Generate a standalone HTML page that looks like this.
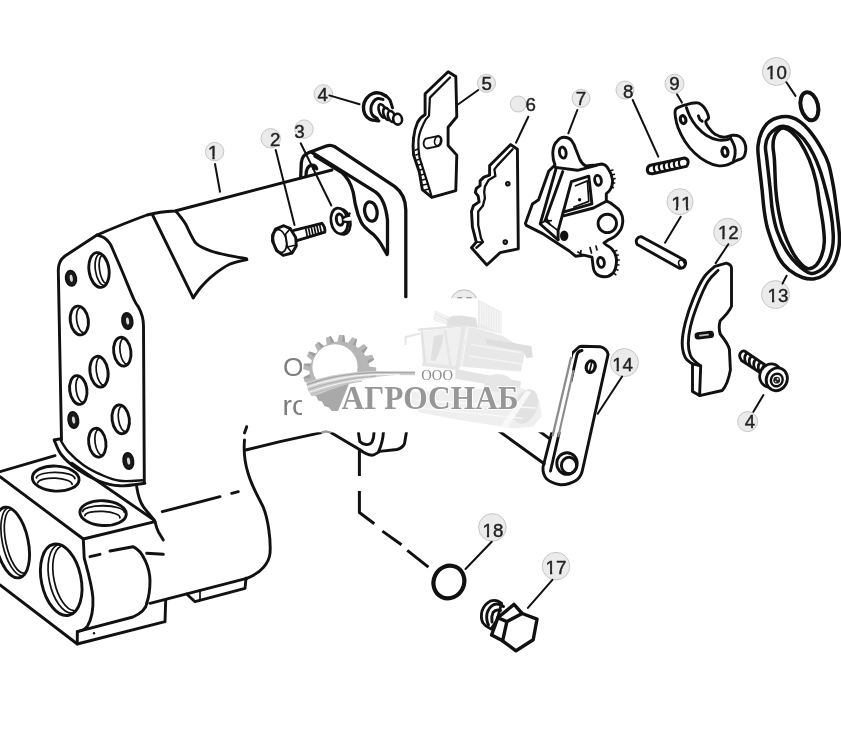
<!DOCTYPE html>
<html><head><meta charset="utf-8">
<style>
html,body{margin:0;padding:0;background:#fff;}
body{width:841px;height:731px;overflow:hidden;font-family:"Liberation Sans",sans-serif;}
svg{display:block;will-change:transform;}
.k{fill:none;stroke:#111;stroke-width:2.9;stroke-linecap:round;stroke-linejoin:round;}
.t{fill:none;stroke:#111;stroke-width:1.7;stroke-linecap:round;stroke-linejoin:round;}
.h{fill:none;stroke:#111;stroke-width:2.6;stroke-linecap:round;stroke-linejoin:round;}
.w{fill:#fff;stroke:#111;stroke-width:2.9;stroke-linecap:round;stroke-linejoin:round;}
#flange .k{stroke-width:3.3;}
.lc{fill:#ebebeb;stroke:#c6c6c6;stroke-width:1;}
.lt{font-family:"Liberation Sans",sans-serif;font-size:17.5px;fill:#222;stroke:#222;stroke-width:0.4;text-anchor:middle;}
.ld{fill:none;stroke:#111;stroke-width:2;stroke-linecap:round;}
</style></head><body>
<svg width="841" height="731" viewBox="0 0 841 731">
<rect width="841" height="731" fill="#fff"/>
<!--BODY-->
<g id="body">
<!-- face plate -->
<path class="k" d="M61.5,440 L58.3,270 Q58.3,261 65,256 L97,235 Q125,223 147,215 Q160,211.5 175,211 L332,170"/>
<path class="k" d="M97.1,235.0 C98.3,235.5 102.1,236.4 104.2,237.8 C106.3,239.2 108.2,241.0 109.9,243.5 C111.6,246.0 112.1,247.9 114.2,252.8 C116.3,257.7 119.5,264.9 122.8,272.8 C126.1,280.7 131.6,294.4 134.2,300.0 C136.8,305.6 137.6,305.6 138.3,306.7 Q143.5,316 143.5,326 L144.3,481.7"/>
<path class="k" d="M152.6,215 L193.2,297.8"/>
<path class="k" d="M176.0,211.3 C176.8,212.3 179.4,215.4 181.0,217.5 C182.6,219.6 183.9,221.0 185.6,224.0 C187.3,227.0 189.4,232.2 191.3,235.6 C193.2,239.0 193.8,241.6 197.0,244.2 C200.2,246.8 205.1,249.0 210.5,250.9 C215.9,252.8 223.6,254.4 229.6,255.7 C235.6,257.0 243.7,258.1 246.5,258.6"/>
<path class="k" d="M246.9,259.6 C244.0,260.4 235.3,261.6 229.6,264.3 C223.8,267.0 217.2,272.0 212.4,275.8 C207.6,279.6 204.1,283.6 200.9,287.3 C197.7,291.0 194.5,296.1 193.2,297.8"/>
<!-- plate bottom -->
<path class="k" d="M54.2,440.0 C55.4,442.5 57.6,450.0 61.6,455.0 C65.6,460.0 72.2,465.6 78.3,469.9 C84.4,474.2 91.4,478.1 98.3,480.8 C105.2,483.5 112.1,485.4 119.9,485.8 C127.7,486.2 140.7,483.7 144.9,483.3"/>
<path class="k" style="stroke-width:2.4" d="M60.0,439.1 C61.4,441.2 64.4,447.3 68.3,451.6 C72.2,455.9 77.8,461.0 83.3,464.9 C88.8,468.8 95.5,472.2 101.6,474.9 C107.7,477.5 112.9,479.9 119.9,480.8 C126.9,481.7 139.6,480.4 143.5,480.3"/>
<path class="k" d="M54.2,440 L61,438.6"/>
<!-- holes -->
<g class="k">
<ellipse cx="71" cy="278.3" rx="4.6" ry="7" transform="rotate(-8 71 278.3)" style="stroke-width:3.2"/>
<ellipse cx="99" cy="270" rx="10" ry="17.5" transform="rotate(-8 99 270)"/>
<ellipse cx="79.3" cy="320.5" rx="9" ry="14.5" transform="rotate(-8 79.3 320.5)"/>
<ellipse cx="127.3" cy="321" rx="4.6" ry="7.5" transform="rotate(-8 127.3 321)" style="stroke-width:3.2"/>
<ellipse cx="122.3" cy="351.7" rx="8.6" ry="14.5" transform="rotate(-8 122.3 351.7)"/>
<ellipse cx="99" cy="371.7" rx="9" ry="15.5" transform="rotate(-8 99 371.7)"/>
<ellipse cx="78.3" cy="390" rx="8.6" ry="14.5" transform="rotate(-8 78.3 390)"/>
<ellipse cx="120.7" cy="419.3" rx="8.6" ry="14.5" transform="rotate(-8 120.7 419.3)"/>
<ellipse cx="73.3" cy="420" rx="4.4" ry="7.5" transform="rotate(-8 73.3 420)" style="stroke-width:3.2"/>
<ellipse cx="97.3" cy="442.7" rx="8.6" ry="14.5" transform="rotate(-8 97.3 442.7)"/>
<ellipse cx="128.3" cy="461" rx="4.4" ry="7.5" transform="rotate(-8 128.3 461)" style="stroke-width:3.2"/>
</g>
<g class="t">
<path d="M102.2,254.1 A6.8,15.9 0 0 0 102.2,285.9" transform="rotate(-8 99.0 270.0)"/>
<path d="M82.5,307.6 A5.8,12.9 0 0 0 82.5,333.4" transform="rotate(-8 79.3 320.5)"/>
<path d="M125.5,338.8 A5.4,12.9 0 0 0 125.5,364.6" transform="rotate(-8 122.3 351.7)"/>
<path d="M102.2,357.8 A5.8,13.9 0 0 0 102.2,385.6" transform="rotate(-8 99.0 371.7)"/>
<path d="M81.5,377.1 A5.4,12.9 0 0 0 81.5,402.9" transform="rotate(-8 78.3 390.0)"/>
<path d="M123.9,406.4 A5.4,12.9 0 0 0 123.9,432.2" transform="rotate(-8 120.7 419.3)"/>
<path d="M100.5,429.8 A5.4,12.9 0 0 0 100.5,455.6" transform="rotate(-8 97.3 442.7)"/>
<path d="M104.5,256.0 A5.0,14.0 0 0 0 104.5,284.0" transform="rotate(-8 99.0 270.0)"/>
</g>
<ellipse cx="71.0" cy="278.3" rx="4.4" ry="7.2" fill="#1a1a1a" transform="rotate(-8 71.0 278.3)"/><ellipse cx="71.3" cy="278.3" rx="1.5" ry="3.6" fill="#d8d8d8" transform="rotate(-8 71.0 278.3)"/>
<ellipse cx="127.3" cy="321.0" rx="4.4" ry="7.2" fill="#1a1a1a" transform="rotate(-8 127.3 321.0)"/><ellipse cx="127.6" cy="321.0" rx="1.5" ry="3.6" fill="#d8d8d8" transform="rotate(-8 127.3 321.0)"/>
<ellipse cx="73.3" cy="420.0" rx="4.4" ry="7.2" fill="#1a1a1a" transform="rotate(-8 73.3 420.0)"/><ellipse cx="73.6" cy="420.0" rx="1.5" ry="3.6" fill="#d8d8d8" transform="rotate(-8 73.3 420.0)"/>
<ellipse cx="128.3" cy="461.0" rx="4.4" ry="7.2" fill="#1a1a1a" transform="rotate(-8 128.3 461.0)"/><ellipse cx="128.6" cy="461.0" rx="1.5" ry="3.6" fill="#d8d8d8" transform="rotate(-8 128.3 461.0)"/>
<!-- block -->
<path class="k" d="M0,471.7 L55,455.7"/>
<path class="k" d="M0,476.7 L83.3,539 L155,521.7"/>
<path class="k" d="M71.7,463.3 L154,520"/>
<ellipse class="k" cx="55.7" cy="478.6" rx="23.4" ry="12.5" transform="rotate(3 55.7 478.6)"/>
<ellipse class="k" cx="103.1" cy="513.1" rx="23.2" ry="12.4" transform="rotate(3 103.1 513.1)"/>
<!-- front big circles -->
<ellipse class="k" cx="12" cy="542.5" rx="16.2" ry="36" transform="rotate(-12 12 542.5)"/>
<ellipse class="k" cx="61.2" cy="579.8" rx="19.8" ry="36.3" transform="rotate(-12 61.2 579.8)"/>
<g class="t" style="stroke-width:1.8">
<path d="M36.4,477.8 A19.3,6.3 1 0 1 74.9,478.5"/>
<path d="M37.8,482.8 A17.2,5.7 2 0 1 72.1,484.3"/>
<path d="M82.8,511.4 A20.7,6 1 0 1 124.2,512.1"/>
<path d="M84.9,515.6 A17.5,5.3 3 0 1 119.9,517.8"/>
</g>
<g class="t">
<path d="M64.5,545 A17,35 0 0 0 64.5,614.6" transform="rotate(-12 61.2 579.8)"/>
<path d="M67.5,547 A15,33 0 0 0 67.5,612.6" transform="rotate(-12 61.2 579.8)"/>
<path d="M15,507.7 A14,35 0 0 0 15,577.3" transform="rotate(-12 12 542.5)"/>
<path d="M18,510 A12,32.5 0 0 0 18,575" transform="rotate(-12 12 542.5)"/>
</g>
<!-- cylinder boss -->
<path class="k" d="M83.3,539 L84.2,558 C88,572 92,585 92.9,598 C93.5,610 91,620 87.5,626 C85,629.5 81,631 77.3,631.7"/>
<circle cx="94" cy="633.2" r="1.2" fill="#111"/>
<path class="k" d="M0,585 L77.3,644 L165,621.7 L165.7,600"/>
<path class="k" d="M77.3,644 L77.3,631.7 L133,617 C142,613 146,608 147,603"/>
<path class="k" d="M110,551 L133,546.7 C143,551 150,568 150,581 C150,590 148.5,598 146.7,603.3"/>
<path class="k" d="M90,556.7 L100,554.3"/>
<path class="k" d="M146.7,553.3 L163.3,554.3"/>
<path class="k" d="M150,603.3 L246.7,578.3"/>
<path class="k" d="M186.7,594 L195,601.7 L245,588.3 L246,578.3"/>
<path class="t" d="M200,591 L200,600"/>
<!-- right side -->
<path class="k" d="M246.7,426.7 L244.5,433"/>
<path class="k" d="M244.5,440 C243.5,452 244.5,462 248,473 C252,487 259,498 263,506.7 C268,518 271,540 270,553.3 C269,563 261,573 246.7,578.3"/>
<path class="k" d="M245.7,450 L280,441.7 L321.2,432.6"/>
<path class="k" d="M162.3,511.7 L220,496.7"/>
<path class="k" d="M231.7,493.3 L238.3,491.7"/>
<path class="k" d="M136.7,486.7 C138,495 140,502 143.3,506.7 C148,513 153,518 155,521.7 C156,526 157,529 158.3,531.7 L163.3,540"/>
</g>
<!--FLANGE-->
<g id="flange">
<path class="k" d="M300.7,177 L301.3,163 C302,157 304,154.6 309,152.5 L327,145.8 Q331,144.8 335,146.8 L394.9,186.6 C400,190.5 405.8,198 405.8,210 L405.8,297"/>
<path class="k" d="M311.3,152 L375.4,191.9 C381,196 386,206 387.5,220.4 L387.5,253.3"/>
<path class="k" d="M315,156 L341.6,172.3 C347,177 351,184 353.1,191.9 C354.5,198 354.5,202 355.8,206.1 C357,212 358.5,217 361.1,222.1 C364,228 369,231 373.6,234.6 C377,238 379,240.5 380.7,243.5 L387,254.5"/>
<ellipse class="k" cx="370.9" cy="211.5" rx="6.2" ry="9.8" transform="rotate(-10 370.9 211.5)"/>
<path class="k" d="M306,175.5 C306,170 307,166.5 311.3,165.2 C314,164.8 316,166.5 316.7,168.8"/>
<circle cx="314" cy="168.3" r="2" fill="#111"/>
</g>
<g id="bolt2">
<path class="w" d="M272.5,235.2 L275.5,229.2 L283.8,225.7 L290.3,228.6 L295.7,237.6 L296.3,245.9 L292.1,253 L283.2,255.4 L276.6,250.6 L272.5,241.1 Z"/>
<ellipse class="t" cx="280" cy="241" rx="6.3" ry="11.6" transform="rotate(-12 280 241)"/>
<path class="t" d="M285.6,234 L290.3,228.6 M285.6,234 L287.3,247 L292.1,253 M287.3,247 L296,245"/>
<path class="k" d="M293.9,230.4 L321.8,223.3 Q325.5,227 324.8,232.2 L296.9,240.6"/>
<path class="t" d="M305.5,227.5 L307.5,237.5 M308.3,226.8 L310.3,236.7 M311.1,226.1 L313.1,235.9 M313.9,225.4 L315.9,235 M316.7,224.7 L318.7,234.2 M319.5,224 L321.5,233.4"/>
</g>
<g id="washer3">
<ellipse class="w" style="stroke-width:2.6" cx="342" cy="221.8" rx="8.4" ry="12.8" transform="rotate(-10 342 221.8)"/>
<ellipse class="w" style="stroke-width:2.8" cx="339.4" cy="221" rx="8.4" ry="13" transform="rotate(-10 339.4 221)"/>
<ellipse class="k" style="stroke-width:3" cx="339.8" cy="219.6" rx="3.4" ry="5.6" transform="rotate(-10 339.8 219.6)"/>
<path d="M343.2,218.6 L351.5,216.2 L351.8,220.6 L343.6,221.2 Z" fill="#fff"/>
<path class="k" style="stroke-width:2.4" d="M343.2,218 L349.6,213.6 M343.6,221.6 L348.5,222.2"/>
</g>
<g id="screw4a">
<path class="k" style="stroke-width:3.4" d="M386.0,96.0 C385.0,95.5 382.1,93.5 379.9,93.1 C377.7,92.7 375.0,92.6 372.8,93.5 C370.5,94.4 367.9,96.4 366.4,98.5 C364.8,100.7 363.7,103.8 363.5,106.4 C363.3,109.0 363.9,112.1 364.9,114.2 C366.0,116.4 367.6,118.1 369.9,119.2 C372.2,120.3 377.3,120.7 378.8,120.9"/>
<path class="k" style="stroke-width:3" d="M386.0,96.0 C386.7,96.6 388.8,98.0 389.9,100.0 C391.0,101.9 392.0,106.5 392.5,107.8"/>
<path class="k" style="stroke-width:3" d="M383.0,99.5 C382.2,99.4 379.4,98.1 377.8,98.5 C376.1,99.0 374.2,100.4 373.1,102.1 C371.9,103.8 371.0,106.4 370.9,108.5 C370.8,110.7 371.3,113.3 372.3,114.9 C373.4,116.6 376.5,117.9 377.3,118.5"/>
<ellipse class="w" style="stroke-width:2.6" cx="382.5" cy="111.0" rx="3.4" ry="7.1" transform="rotate(-20 382.5 111.0)"/>
<ellipse class="w" style="stroke-width:2.6" cx="387.0" cy="113.9" rx="3.4" ry="6.3" transform="rotate(-20 387.0 113.9)"/>
<ellipse class="w" style="stroke-width:2.6" cx="391.6" cy="116.5" rx="3.4" ry="5.7" transform="rotate(-20 391.6 116.5)"/>
<ellipse class="w" style="stroke-width:2.6" cx="397.6" cy="119.2" rx="4.4" ry="5.4" transform="rotate(-10 397.6 119.2)"/>
</g>
<!--PARTS-->
<g id="p5">
<path class="w" d="M425.1,93.8 L448.1,71.7 L455.8,76.5 L456.8,116.8 L448.1,127.3 L448.1,145.5 L456.8,155.1 L455.8,190.6 L431.8,197.3 L422.3,189.6 L419.4,172.3 L413.6,155.1 Q412.5,146 413.6,137.8 Q414.5,129 417.5,122.5 Q420,117.5 425.1,114.8 Z"/>
<path class="t" style="stroke-width:2.2" d="M450,77.5 L429.9,97.6 L429,115.8 C426,118.5 424.5,121 423.2,124.4 C420,131 418.4,136 418.4,141.7 C418.2,148 418.6,152 419.4,157 L424.2,172.3 L429,187.7 L431.8,197.3"/>
<path class="t" d="M415.5,150 L418,149 M415.8,155 L419,154 M417,160 L420.3,159 M418.5,165 L421.8,164 M420,170 L423.3,169 M421,175 L424.8,174 M422,180 L426.3,179 M423,185 L427.8,184 M425,190 L429,189"/>
<path class="w" d="M426,138.6 L438.5,135.8 Q442,137 441.6,141.5 Q441,145 438.5,146.2 L427,148.5 Q423.5,147 423.6,143.2 Q424,139.5 426,138.6 Z" style="stroke-width:1.8"/>
<ellipse class="t" cx="437.6" cy="141" rx="3" ry="4.6" transform="rotate(12 437.6 141)"/>
</g>
<g id="p6">
<path class="w" d="M510.7,144.6 L517.4,149.3 L518.3,248.8 L500.2,252.6 L486.8,265 L471.5,247.8 L476.3,242.1 L472.4,226.8 L471.5,211.5 L473.4,205.8 L479.1,201.9 L478.2,196.2 L475.3,192.4 L476.3,188.5 L480.1,185.7 L480.1,180.9 L483.9,177.1 L489.6,175.2 L489.6,165.6 L493.5,161.8 Z"/>
<path class="t" style="stroke-width:2.3" d="M512.6,149.3 L497.3,165.6 L494.4,169.4 L495.4,176.1 L488.7,179.9 L484.9,186.6 L484.2,192 L484.9,198.1 L482.9,205.8 L478.2,211.5 L478.2,224.9 L481,238.3 L482.9,242.1 L476.3,247.8"/>
<path class="t" d="M476.3,242.1 L482.9,242.1"/>
<circle cx="507.8" cy="183.8" r="2.8" fill="#111"/><circle cx="505.3" cy="242.1" r="2.8" fill="#111"/><circle cx="507.8" cy="183.8" r="0.8" fill="#aaa"/><circle cx="505.3" cy="242.1" r="0.8" fill="#aaa"/>
</g>
<g id="p7">
<path class="w" d="M555,165 C553,160 552.5,155 553,150.6 C553.5,146 555,143 557,141.3 C559,138.5 561.5,137.2 564.2,137.2 C567.5,137.2 570,138.5 571.4,140.3 C573.5,143 574.8,146 575.5,148.5 L579.6,158.8 C581,162 583,164.5 585.7,166 L596,165 L602,164 C605,164.5 607,166.5 608.3,169 C610.5,172 612,176 612.4,179.3 C612.8,182.5 612.4,185 611.4,187.5 C610,190.5 608,192.5 606.3,193.6 L606.3,200.8 C609.5,202 612,203.5 614.5,206 C617.5,208 619.5,210 620.6,212 C622.5,215.5 623,219 622.7,222.4 C622.3,226.5 621,230 618.6,232.6 C616,236 612,238.5 608.3,239.8 L604,243 L606.3,245 C609.5,246.5 612,248.5 613.4,251 C615.5,254 616.7,258 616.5,261.3 C616.3,266 615,271 612.4,273.6 C610,276 607,276.8 604.2,276.7 C601,276.5 598,275.5 596,273.6 C594,271.5 593.2,268.5 593,265.5 L592,257.2 L583.7,255.2 L575.5,256.2 L569.3,251 L557,243 L542.7,233.6 L526.3,225.4 L525.4,223.4 L532.4,204 L538.6,199.8 L548.8,171 Z"/>
<path class="k"  d="M555.4,167.4 L577.5,170.3 L596.4,165.3"/>
<path class="k"  d="M556.2,168.2 L540.2,224.0 L558.1,239.8"/>
<path class="k"  d="M562.8,171.5 L545.1,220.7"/>
<path class="t"  d="M540.2,224.0 L545.1,220.7"/>
<path class="k"  d="M571.4,181.7 L588.8,176.2 L591.9,203.9 L563.2,212.1 L571.4,181.7"/>
<path class="t"  d="M575.5,185.8 L587.4,180.9 L588.8,201.4 L573.8,207.0"/>
<path class="k"  d="M563.2,212.1 L558.1,230.6 L558.1,239.8"/>
<path class="k"  d="M563.6,215.8 L593.5,208.0 L606.3,201.2"/>
<path class="t"  d="M545.1,220.7 L558.1,230.6"/>
<path class="t"  d="M546.8,218.3 L549.8,224.4"/>
<path class="t"  d="M544.7,221.3 L551.3,220.7"/>
<circle cx="579.6" cy="199.8" r="1.7" fill="#111"/>
<ellipse class="k" cx="598" cy="180.3" rx="3.3" ry="5" transform="rotate(-10 598 180.3)"/>
<ellipse class="k" cx="562.8" cy="152.6" rx="3.3" ry="5.6" transform="rotate(-10 562.8 152.6)"/>
<circle class="k" cx="607.3" cy="223.4" r="9.2"/>
<ellipse cx="564.2" cy="235.7" rx="4.2" ry="5.2" fill="#111"/>
<ellipse class="k" cx="601" cy="262.4" rx="3.3" ry="5" transform="rotate(-10 601 262.4)"/>
<path class="t" d="M609.5,171 L612.8,170 M611,175 L614.3,174.3 M611.8,179 L615,178.6 M611.6,183 L614.6,183 M610.6,187 L613.3,187.6"/>
<path class="t" d="M613.5,251.5 L616.8,250.5 M615,255.5 L618.3,255 M616,260 L619.2,260 M615.8,264.5 L618.8,265 M615,269 L617.8,270 M613.5,273 L615.7,274.7"/>
<path class="t" d="M578,252 L582,254.5 M581,250.5 L580.5,255 M590,247.5 L591.5,253 M596,246 L597,250"/>
</g>
<g id="sp8">
<path class="w" d="M650.5,165.2 L684.5,158 Q688,158.8 688.2,162 Q688,165.2 686.3,166.4 L652.5,173.8 Q648,174 647.3,170.5 Q647,166.6 650.5,165.2 Z" style="stroke-width:3"/>
<path class="t" style="stroke-width:2.2" d="M654.8,164.6 Q652.5,169 656,173 M659.8,163.6 Q657.5,168 661,172 M664.8,162.5 Q662.5,167 666,170.9 M669.8,161.4 Q667.5,166 671,169.8 M674.8,160.4 Q672.5,165 676,168.7 M679.8,159.3 Q677.5,164 681,167.6"/>
</g>
<g id="p9">
<path class="w" d="M675.9,109.2 C677.5,107.3 681.2,106.2 684.7,105.1 C688.2,104.0 693.8,102.6 696.8,102.7 C699.7,102.7 700.6,103.9 702.2,105.4 C703.9,106.9 705.5,109.3 706.6,111.4 C707.7,113.5 708.7,116.3 708.6,118.0 C708.4,119.7 705.7,120.0 705.7,121.6 C705.8,123.2 707.2,125.7 708.8,127.8 C710.4,130.0 712.8,132.9 715.4,134.4 C717.9,136.0 721.2,137.0 724.1,137.2 C727.0,137.3 730.3,135.4 732.9,135.3 C735.4,135.2 737.5,135.5 739.5,136.6 C741.4,137.7 743.3,139.9 744.4,142.1 C745.4,144.3 746.0,147.2 745.8,149.7 C745.6,152.3 744.9,155.6 743.3,157.4 C741.7,159.2 739.0,159.4 736.2,160.7 C733.3,162.0 729.4,164.3 726.3,165.1 C723.2,165.9 720.8,166.2 717.6,165.6 C714.3,165.1 710.4,163.9 706.6,161.8 C702.8,159.7 698.2,156.5 694.6,153.0 C690.9,149.6 687.4,145.2 684.7,141.0 C682.0,136.8 679.7,131.9 678.1,127.8 C676.6,123.8 675.8,120.0 675.4,116.9 C675.0,113.8 674.4,111.2 675.9,109.2 Z"/>
<path class="k" d="M686.4,107.6 C687.0,109.1 688.4,113.7 690.2,116.9 C691.9,120.1 694.0,123.7 696.8,126.8 C699.5,129.9 703.1,133.3 706.6,135.5 C710.1,137.7 714.3,139.2 717.6,139.9 C720.8,140.6 724.1,140.2 726.3,139.9 C728.5,139.6 730.0,138.5 730.7,138.2"/>
<path class="k" d="M730.7,138.2 C731.3,139.6 733.8,143.8 734.5,146.5 C735.3,149.1 735.3,151.8 735.1,154.1 C734.9,156.5 733.7,159.6 733.4,160.7"/>
<path class="k" d="M698.4,115.8 C698.6,116.4 699.2,118.4 699.8,119.3 C700.5,120.2 701.8,120.9 702.2,121.3"/>
<ellipse class="k" style="stroke-width:3.2" cx="683.1" cy="119.6" rx="2.7" ry="4" transform="rotate(-15 683.1 119.6)"/>
<ellipse class="k" style="stroke-width:3.2" cx="725" cy="151.9" rx="2.9" ry="4.6" transform="rotate(-10 725 151.9)"/>
</g>
<ellipse class="k" cx="809.4" cy="106.2" rx="8.6" ry="14.3" transform="rotate(-14 809.4 106.2)" style="stroke-width:4"/>
<g id="belt13">
<path class="k" style="stroke-width:3.5" d="M758.7,159.7 C758.0,152.4 757.5,150.6 758.0,146.0 C758.5,141.4 759.5,136.5 761.4,132.4 C763.3,128.3 765.5,124.0 769.6,121.4 C773.7,118.8 781.0,116.6 786.0,116.6 C791.0,116.6 795.6,118.8 799.7,121.4 C803.8,124.0 807.1,127.8 810.7,132.4 C814.4,137.0 818.6,143.6 821.6,148.8 C824.6,154.0 826.5,157.4 828.5,163.8 C830.5,170.2 832.1,179.3 833.5,187.1 C834.9,194.9 835.7,202.5 836.7,210.5 C837.7,218.5 839.1,228.7 839.4,235.1 C839.7,241.5 839.6,244.0 838.7,248.8 C837.8,253.6 836.3,259.6 833.9,263.9 C831.5,268.2 827.7,272.3 824.3,274.8 C820.9,277.3 817.0,278.4 813.4,278.9 C809.8,279.3 806.4,278.9 802.5,277.5 C798.6,276.1 794.0,273.9 790.1,270.7 C786.2,267.5 782.8,265.0 779.2,258.4 C775.6,251.8 770.8,239.0 768.3,231.0 C765.8,223.0 765.2,217.3 764.2,210.5 C763.2,203.7 763.0,198.5 762.1,190.0 C761.2,181.5 759.4,167.0 758.7,159.7 Z"/>
<path class="k" style="stroke-width:3.5" d="M766.9,159.7 C766.1,152.4 765.2,150.1 765.5,146.0 C765.8,141.9 767.1,138.0 768.9,135.1 C770.7,132.2 774.1,129.8 776.5,128.3 C778.9,126.8 780.6,126.0 783.3,126.2 C786.0,126.4 789.5,127.4 792.9,129.6 C796.3,131.8 800.4,135.1 803.8,139.2 C807.2,143.3 810.7,148.9 813.4,154.2 C816.1,159.4 818.2,164.8 820.2,170.7 C822.2,176.6 824.0,183.2 825.7,189.8 C827.4,196.4 829.2,203.2 830.5,210.5 C831.8,217.8 832.9,227.6 833.2,233.8 C833.5,240.0 833.3,242.9 832.5,247.5 C831.7,252.1 830.2,257.5 828.4,261.1 C826.6,264.7 824.5,267.2 821.6,269.3 C818.7,271.4 814.8,274.3 810.7,273.4 C806.6,272.5 801.1,267.8 797.0,263.9 C792.9,260.0 789.3,255.7 786.0,250.2 C782.7,244.7 779.4,237.6 777.1,231.0 C774.8,224.4 773.5,217.3 772.4,210.5 C771.3,203.7 771.2,198.5 770.3,190.0 C769.4,181.5 767.7,167.0 766.9,159.7 Z"/>
<path class="k" style="stroke-width:3.5" d="M774.4,159.7 C773.9,152.4 773.0,149.9 773.0,146.0 C773.0,142.1 773.4,139.2 774.4,136.5 C775.4,133.8 777.5,131.0 779.2,129.6 C780.9,128.2 782.6,127.8 784.7,128.3 C786.8,128.8 789.5,130.3 792.0,132.5 C794.5,134.7 796.8,136.7 799.7,141.2 C802.6,145.7 806.6,153.0 809.3,159.7 C812.0,166.4 814.4,174.3 816.1,181.6 C817.8,188.9 818.5,196.6 819.6,203.7 C820.8,210.8 822.2,217.8 823.0,224.2 C823.8,230.6 824.5,236.8 824.3,242.0 C824.1,247.2 823.0,251.8 821.6,255.7 C820.2,259.6 818.4,263.0 816.1,265.2 C813.8,267.4 810.6,269.1 807.9,268.7 C805.2,268.2 802.4,265.6 799.7,262.5 C797.0,259.4 794.2,255.4 791.5,250.2 C788.8,244.9 785.5,237.6 783.3,231.0 C781.1,224.4 779.8,217.3 778.5,210.5 C777.2,203.7 776.5,198.5 775.8,190.0 C775.1,181.5 774.9,167.0 774.4,159.7 Z"/>
</g>
<g id="pin11">
<path class="w" d="M641.5,236.8 L684.8,260.2 Q686.5,263.5 684.5,266.5 Q682.5,268.8 679,268 L637.3,244.6 Q635.3,241.5 637,238.8 Q638.8,236.3 641.5,236.8 Z"/>
<ellipse class="t" cx="681.7" cy="264" rx="2.8" ry="4.2" transform="rotate(-25 681.7 264)"/>
</g>
<g id="p12">
<path class="w" d="M715.0,266.3 L726.3,263.2 Q731.5,264.8 731.5,268.3 L731.5,306.3 Q728.9,312.5 720.2,320.7 Q718.2,327.4 720.2,334.0 Q728.4,344.4 729.4,349.4 L730.4,370.0 Q727.8,384.4 722.2,390.5 L699.6,395.6 L692.5,391.5 L692.5,363.8 C691.3,362.8 687.0,361.1 685.3,357.6 C683.6,354.2 682.2,349.1 682.2,343.3 C682.2,337.5 683.4,330.3 685.3,322.7 C687.1,315.2 690.4,305.6 693.5,298.1 C696.6,290.6 700.1,282.9 703.7,277.6 C707.3,272.3 713.2,268.2 715.0,266.3 Z"/>
<path class="k" d="M718.1,270.4 C716.4,272.3 711.3,276.0 707.8,281.7 C704.4,287.3 700.5,296.7 697.6,304.3 C694.7,311.8 691.9,320.4 690.4,326.9 C688.9,333.4 688.3,338.5 688.3,343.3 C688.3,348.1 689.2,352.5 690.4,355.6 C691.6,358.7 693.8,360.0 695.5,361.8 C697.2,363.5 699.8,365.2 700.7,365.9"/>
<path class="k" d="M692.5,363.8 L700.7,365.9 L699.6,395.6"/>
<rect x="694.5" y="331.6" width="19.5" height="7.2" rx="3.4" fill="#111" transform="rotate(-7 704 335)"/>
<rect x="699" y="334.2" width="10" height="1.8" rx="0.9" fill="#bbb" transform="rotate(-7 704 335)"/>
</g>
<g id="screw4b">
<path class="w" style="stroke-width:2.8" d="M744.5,351 L764.5,364.5 L760,372.5 L741.5,360.5 Q738.5,356.5 740.3,353.3 Q742,350.3 744.5,351 Z"/>
<path class="t" style="stroke-width:2.7" d="M746.5,353.5 Q743.5,357 745.5,362 M751,356.5 Q748,360 750,365 M755.5,359.5 Q752.5,363 754.5,368 M760,362.5 Q757,366 759,371"/>
<ellipse class="w" style="stroke-width:2.8" cx="770.5" cy="375.5" rx="10.6" ry="11.8" transform="rotate(25 770.5 375.5)"/>
<ellipse class="w" style="stroke-width:2.8" cx="776.8" cy="379.3" rx="10.4" ry="11.6" transform="rotate(25 776.8 379.3)"/>
<ellipse class="k" style="stroke-width:2.4" cx="776.8" cy="380" rx="5.8" ry="6.4" transform="rotate(25 776.8 380)"/>
<circle cx="776.7" cy="380.2" r="3.4" fill="#222"/><circle cx="777.6" cy="379" r="1" fill="#ddd"/><circle cx="775.6" cy="381.6" r="0.8" fill="#ccc"/>
</g>
<g id="p14">
<path class="w" d="M572.1,353.3 L579.2,346.8 Q580.2,346.3 582,346.3 L600,346.7 Q607,348.5 608.1,354.4 L582.6,469.5 Q581.5,476 576.7,480 Q569,485 560.5,484.7 Q551.5,483.5 546.5,478.8 Q542.5,474 543,467.2 Z"/>
<path class="k" d="M577,354.5 Q578,351 582,350.5 M577,354.5 L550.5,471"/>
<ellipse class="k" style="stroke-width:3.3" cx="590.7" cy="366.7" rx="4.4" ry="5.8" transform="rotate(15 590.7 366.7)"/>
<path class="t" d="M592,361.5 L589.5,371.5"/>
<ellipse class="k" cx="567" cy="463.5" rx="10.2" ry="10.8"/>
<ellipse class="k" cx="569" cy="465.5" rx="7.6" ry="8.2"/>
</g>
<path class="k" d="M496,429 L544.2,463.7"/>
<path class="k" d="M538.4,430.5 L548.8,438.1"/>
<ellipse class="k" style="stroke-width:4.2" cx="448.9" cy="582" rx="15.2" ry="16.6" transform="rotate(25 448.9 582)"/>
<g id="p17">
<path class="w" style="stroke-width:2.8" d="M501.6,603.4 Q497,599.3 491,600.8 Q484.4,604 482,611 Q480.3,618 483,623 Q485.5,626.5 491,629 L497,620 Z"/>
<path class="k" d="M503.5,606.5 Q499,603 494,604.5 Q488.5,607.5 487,613.5 Q486,620 488.5,625"/>
<path class="k" d="M500.5,610.5 Q496,609 493,612.5 Q491,617 492,622"/>
<path class="w" style="stroke-width:3.4" d="M497.8,617.8 L514,604.4 L522.2,613.5 L537,619.2 L533.2,639.8 L516,650.8 L502.6,640.8 L491.6,635 Z"/>
<path class="k" style="stroke-width:3.4" d="M497.8,617.8 L506.9,621.6 L522.2,613.5 M506.9,621.6 L502.6,640.8"/>
</g>
<path class="k" style="stroke-width:3;stroke-linecap:butt" d="M359.4,449.5 L359.4,476 M359.4,491 L359.4,512.5 L374.3,523.8 M382.4,531.1 L401.5,544.8 M407.3,550.3 L428.4,567.2"/>
<path class="k" d="M330.8,432.6 L359.5,449.5 C364,453 368,455 372,455.2 C375,455 377,453 379.6,451.4 L396.9,449.5 C401,448.5 403.5,446 404.5,443.7 L406.4,432.2"/>
<path class="k" d="M358.5,433 L359.8,441.5 C363,445 369,446 372,442 C373.5,439 374,436 374,432.4"/>
<path class="k" d="M383.4,432.2 C383,440 381,446 378.7,451.4"/>
<!--P12END-->

<!--WATERMARK-->
<g id="wm">
<circle cx="464" cy="303.4" r="13.6" fill="#ebebeb" stroke="#bdbdbd" stroke-width="1"/>
<rect x="457.3" y="297.4" width="4.8" height="1.4" fill="#666"/><rect x="466.2" y="297.4" width="5.4" height="1.4" fill="#666"/>
<text x="283" y="375.5" font-family="Liberation Sans, sans-serif" font-size="26.5" fill="#7d7d7d">O</text>
<text x="282.6" y="414.7" font-family="Liberation Sans, sans-serif" font-size="28.5" fill="#7d7d7d">ro</text>
<rect x="302" y="298.3" width="270" height="134" fill="#fff"/>
<!-- harvester -->
<g stroke="none">
<path d="M477.9,299.4 L501.5,311.7 L501.5,334.2 L477.9,328.1 Z" fill="#ebebeb" />
<path d="M434.9,310.6 L451.3,317.8 L446.8,325.0 L433.4,319.9 Z" fill="#ececec" />
<path d="M446.2,318.8 L453.3,315.8 L461.5,315.4 L475.9,317.8 L477.9,328.1 L467.7,326.4 L447.2,326.4 Z" fill="#e0e0e0" />
<path d="M417.4,328.5 L466.7,324.6 L467.3,326.6 L418.1,330.9 Z" fill="#e4e4e4" />
<path d="M404.5,336.3 L420.1,332.6 L420.5,334.2 L406.6,337.9 L406.6,344.9 L404.5,344.9 Z" fill="#e6e6e6" />
<path d="M420.5,331.2 L466.1,326.6 L458.5,367.5 L423.0,364.0 Z" fill="#f0f0f0" />
<path d="M420.5,331.8 L423.0,331.4 L426.3,364.0 L423.8,364.0 Z" fill="#e2e2e2" />
<path d="M443.5,330.5 L446.4,330.1 L451.7,365.4 L449.2,365.6 Z" fill="#e6e6e6" />
<path d="M461.5,327.1 L466.1,326.6 L459.5,367.5 L455.4,367.1 Z" fill="#e6e6e6" />
<path d="M433.8,336.3 L443.5,334.2 L441.4,346.5 L435.3,361.3 L430.8,360.1 Z" fill="#e0e0e0" />
<path d="M422.2,362.5 L459.5,366.6 L459.1,370.1 L422.2,366.0 Z" fill="#e6e6e6" />
<path d="M466.7,327.1 L477.9,328.5 L502.6,335.9 L523.1,348.2 L524.7,352.7 L521.0,371.6 L459.5,366.6 Z" fill="#e8e8e8" />
<path d="M486.2,338.7 L531.3,346.1 L532.9,357.2 L526.4,358.2 L523.1,351.1 L486.2,344.5 Z" fill="#dedede" />
<path d="M455.4,369.1 L521.0,381.4 L520.0,389.2 L455.4,378.9 Z" fill="#e4e4e4" />
<path d="M412.3,392.1 L510.8,387.6 L523.1,388.6 L539.5,399.9 L541.5,416.3 L533.3,426.5 L514.9,428.6 L461.5,420.4 L418.5,412.2 L411.3,401.9 Z" fill="#efefef" />
<ellipse cx="525.5" cy="406.5" rx="11.5" ry="18" transform="rotate(22 525.5 406.5)" fill="#e2e2e2"/>
<path d="M500.5,426.5 L506.7,428.6 L531.3,391.7 L526.2,390.6 Z" fill="#f8f8f8" />
<ellipse cx="498" cy="383" rx="14" ry="9" fill="#e6e6e6"/>
</g>
<g>
<path d="M480.4,301.9 L480.4,323.6" fill="none" stroke="#f8f8f8" stroke-width="1"/>
<path d="M482.9,303.2 L482.9,324.9" fill="none" stroke="#f8f8f8" stroke-width="1"/>
<path d="M485.3,304.4 L485.3,326.2" fill="none" stroke="#f8f8f8" stroke-width="1"/>
<path d="M487.8,305.7 L487.8,327.5" fill="none" stroke="#f8f8f8" stroke-width="1"/>
<path d="M490.3,307.0 L490.3,328.8" fill="none" stroke="#f8f8f8" stroke-width="1"/>
<path d="M492.7,308.3 L492.7,330.0" fill="none" stroke="#f8f8f8" stroke-width="1"/>
<path d="M495.2,309.6 L495.2,331.3" fill="none" stroke="#f8f8f8" stroke-width="1"/>
<path d="M497.6,310.9 L497.6,332.6" fill="none" stroke="#f8f8f8" stroke-width="1"/>
<path d="M500.1,312.1 L500.1,333.9" fill="none" stroke="#f8f8f8" stroke-width="1"/>
<path d="M436.9,312.7 L449.2,318.8" fill="none" stroke="#fafafa" stroke-width="1"/>
<path d="M435.3,315.8 L447.6,321.9" fill="none" stroke="#fafafa" stroke-width="1"/>
<path d="M434.5,318.4 L446.8,324.0" fill="none" stroke="#fafafa" stroke-width="1"/>
<path d="M467.7,328.1 L461.5,367.1" fill="none" stroke="#f7f7f7" stroke-width="1.2"/>
<path d="M470.8,344.5 L521.0,352.7" fill="none" stroke="#f6f6f6" stroke-width="1.2"/>
<path d="M468.7,355.8 L522.1,364.0" fill="none" stroke="#f6f6f6" stroke-width="1.2"/>
<path d="M416.4,399.9 L535.4,408.1" fill="none" stroke="#f9f9f9" stroke-width="1.5"/>
<path d="M420.5,408.1 L523.1,418.3" fill="none" stroke="#f9f9f9" stroke-width="1.2"/>
</g>
<!-- gear -->
<clipPath id="gc"><path d="M302,297 L420,297 L420,372 L396,371 C370,370.5 345,373 325,377.5 C315,380 309,382 306.5,383 L302,384 Z"/></clipPath>
<g clip-path="url(#gc)">
<path d="M337.3,341.7 L339.0,335.0 L344.2,335.3 L345.2,342.1 L348.2,342.8 L352.3,337.2 L357.0,339.3 L355.5,346.1 L358.1,347.9 L363.9,344.1 L367.5,347.8 L363.7,353.5 L365.4,356.1 L372.2,354.7 L374.2,359.4 L368.6,363.4 L369.3,366.4 L376.1,367.6 L376.3,372.7 L369.6,374.4 L369.1,377.5 L375.1,381.0 L373.4,385.8 L366.5,385.0 L365.0,387.7 L369.3,393.1 L366.0,397.1 L359.9,393.8 L357.5,395.8 L359.5,402.4 L355.0,404.8 L350.5,399.6 L347.6,400.5 L347.1,407.5 L342.0,408.1 L339.7,401.6 L336.6,401.4 L333.6,407.7 L328.6,406.5 L328.8,399.6 L326.0,398.3 L321.0,403.1 L316.8,400.1 L319.5,393.8 L317.3,391.6 L310.9,394.2 L308.0,389.9 L312.8,385.0 L311.6,382.1 L304.7,382.2 L303.5,377.2 L309.8,374.3 L309.7,371.2 L303.2,368.9 L303.9,363.8 L310.9,363.4 L311.9,360.4 L306.7,355.9 L309.2,351.4 L315.8,353.5 L317.8,351.1 L314.6,345.0 L318.5,341.7 L323.9,346.1 L326.6,344.6 L325.9,337.7 L330.8,336.1 L334.2,342.1 Z" fill="#b6b6b6"/>
<path d="M341.8,341.7 L343.0,335.1 L344.2,335.3 L345.2,342.1 Z M352.5,344.5 L355.9,338.8 L357.0,339.3 L355.5,346.1 Z M361.4,350.9 L366.7,346.9 L367.5,347.8 L363.7,353.5 Z M367.4,360.2 L373.8,358.3 L374.2,359.4 L368.6,363.4 Z M369.7,371.0 L376.3,371.5 L376.3,372.7 L369.6,374.4 Z M367.9,381.8 L373.9,384.7 L373.4,385.8 L366.5,385.0 Z M362.3,391.3 L366.8,396.2 L366.0,397.1 L359.9,393.8 Z M353.6,398.2 L356.1,404.3 L355.0,404.8 L350.5,399.6 Z M343.1,401.4 L343.2,408.0 L342.0,408.1 L339.7,401.6 Z M332.1,400.6 L329.8,406.8 L328.6,406.5 L328.8,399.6 Z M322.1,395.9 L317.7,400.9 L316.8,400.1 L319.5,393.8 Z M314.5,387.9 L308.6,391.0 L308.0,389.9 L312.8,385.0 Z M310.3,377.7 L303.7,378.4 L303.5,377.2 L309.8,374.3 Z M310.1,366.7 L303.7,365.0 L303.9,363.8 L310.9,363.4 Z M313.9,356.4 L308.5,352.4 L309.2,351.4 L315.8,353.5 Z M321.1,348.1 L317.6,342.5 L318.5,341.7 L323.9,346.1 Z M330.9,342.9 L329.6,336.4 L330.8,336.1 L334.2,342.1 Z " fill="#9e9e9e"/>
<circle cx="339.7" cy="371.6" r="29.5" fill="#b6b6b6"/>
<circle cx="335" cy="366.9" r="22.6" fill="#fff"/>
</g>
<path d="M312,395 L349,383.5 L345.5,392.5 L338,411 L331.7,411 L329,407.5 L324.3,406 L322,401.5 L318.2,400.5 L316.5,396.5 Z" fill="#a9a9a9"/>
<!-- swoosh -->
<path d="M306.5,382.3 C325,376 350,371.6 372,371 L415,371.3 L415,375.2 L396,375 C372,376.5 350,382 333,388.8 C324,392.5 317,395 312,396.5 C308,392 306.5,387 306.5,382.3 Z" fill="#cfcfcf"/>
<g fill="none" stroke-linecap="butt">
<path d="M306.7,384.5 C325,378 350,373.4 372,372.6 L415,372.6" stroke="#a6a6a6" stroke-width="1.4"/>
<path d="M307.3,387 C326,380.5 350,375.6 372,374.6 L400,374.2" stroke="#f2f2f2" stroke-width="1.1"/>
<path d="M308.2,389.6 C327,383 350,378 376,376.2" stroke="#b4b4b4" stroke-width="1.3"/>
<path d="M309.4,392.2 C328,385.6 348,380.6 370,378" stroke="#f2f2f2" stroke-width="1.1"/>
<path d="M310.8,394.6 C329,388 345,383.6 362,381" stroke="#bcbcbc" stroke-width="1.2"/>
</g>
<text x="421.3" y="379.6" font-family="Liberation Serif, serif" font-size="14.6" fill="#8c8c8c">ООО</text>
<text x="341.6" y="409.2" font-family="Liberation Serif, serif" font-size="33" font-weight="bold" fill="#979797" stroke="#fff" stroke-width="2" paint-order="stroke" textLength="177" lengthAdjust="spacingAndGlyphs">АГРОСНАБ</text>
</g>
<!-- gray lines of link 14 showing through watermark -->
<path d="M571.2,357 L552.6,436" stroke="#8c8c8c" stroke-width="2.3" fill="none"/>
<path d="M573.5,370 L558.2,437" stroke="#8c8c8c" stroke-width="2.1" fill="none"/>
<path d="M321.2,432.6 L326,431.4 L330.8,432.6" stroke="#9a9a9a" stroke-width="2.2" fill="none"/>

<!--LABELS-->
<defs>
<clipPath id="c1"><rect x="206.00" y="141.60" width="14.40" height="14.35"/><rect x="212.42" y="155.80" width="2.20" height="4.20"/></clipPath>
<clipPath id="c2"><rect x="764.00" y="61.90" width="24.80" height="14.35"/><rect x="770.42" y="76.10" width="2.20" height="4.20"/><rect x="776.40" y="76.10" width="10.40" height="4.20"/></clipPath>
<clipPath id="c3"><rect x="669.30" y="192.50" width="24.80" height="14.35"/><rect x="675.72" y="206.70" width="2.20" height="4.20"/><rect x="686.12" y="206.70" width="2.20" height="4.20"/></clipPath>
<clipPath id="c4"><rect x="715.90" y="222.40" width="24.80" height="14.35"/><rect x="722.32" y="236.60" width="2.20" height="4.20"/><rect x="728.30" y="236.60" width="10.40" height="4.20"/></clipPath>
<clipPath id="c5"><rect x="765.60" y="285.40" width="24.80" height="14.35"/><rect x="772.02" y="299.60" width="2.20" height="4.20"/><rect x="778.00" y="299.60" width="10.40" height="4.20"/></clipPath>
<clipPath id="c6"><rect x="610.20" y="354.10" width="24.80" height="14.35"/><rect x="616.62" y="368.30" width="2.20" height="4.20"/><rect x="622.60" y="368.30" width="10.40" height="4.20"/></clipPath>
<clipPath id="c7"><rect x="543.60" y="557.10" width="24.80" height="14.35"/><rect x="550.02" y="571.30" width="2.20" height="4.20"/><rect x="556.00" y="571.30" width="10.40" height="4.20"/></clipPath>
<clipPath id="c8"><rect x="480.50" y="520.20" width="24.80" height="14.35"/><rect x="486.92" y="534.40" width="2.20" height="4.20"/><rect x="492.90" y="534.40" width="10.40" height="4.20"/></clipPath>
</defs>
<g id="labels">
<circle class="lc" cx="214.6" cy="151.6" r="9.2"/>
<circle class="lc" cx="270.7" cy="138.3" r="9.7"/>
<circle class="lc" cx="304.0" cy="129.1" r="9.2"/>
<circle class="lc" cx="323.3" cy="94.0" r="9.3"/>
<circle class="lc" cx="486.5" cy="83.3" r="9.0"/>
<circle class="lc" cx="518.3" cy="104.0" r="8.0"/>
<circle class="lc" cx="581.0" cy="98.3" r="9.0"/>
<circle class="lc" cx="625.0" cy="90.0" r="9.0"/>
<circle class="lc" cx="674.5" cy="83.7" r="9.5"/>
<circle class="lc" cx="776.4" cy="71.5" r="14.0"/>
<circle class="lc" cx="680.0" cy="201.7" r="13.0"/>
<circle class="lc" cx="727.7" cy="232.3" r="14.0"/>
<circle class="lc" cx="775.5" cy="294.6" r="14.0"/>
<circle class="lc" cx="624.4" cy="362.6" r="14.0"/>
<circle class="lc" cx="747.6" cy="421.6" r="10.0"/>
<circle class="lc" cx="556.0" cy="566.2" r="13.8"/>
<circle class="lc" cx="492.4" cy="527.4" r="13.8"/>
<path class="ld" d="M215.0,164.0 L220.0,191.7"/>
<path class="ld" d="M275.7,150.0 L294.5,225.0"/>
<path class="ld" d="M300.7,143.3 L331.3,205.5"/>
<path class="ld" d="M329.3,95.4 L359.6,104.2"/>
<path class="ld" d="M478.3,90.0 L458.3,104.3"/>
<path class="ld" d="M528.3,116.7 L516.0,142.7"/>
<path class="ld" d="M577.3,110.0 L568.3,133.3"/>
<path class="ld" d="M632.7,100.0 L658.3,156.7"/>
<path class="ld" d="M677.0,94.3 L681.9,102.6"/>
<path class="ld" d="M786.4,82.3 L795.5,95.9"/>
<path class="ld" d="M680.7,216.7 L665.0,242.7"/>
<path class="ld" d="M728.3,244.2 L715.7,263.1"/>
<path class="ld" d="M786.6,275.7 L782.5,283.6"/>
<path class="ld" d="M622.1,376.5 L597.7,413.7"/>
<path class="ld" d="M763.4,395.1 L753.4,411.8"/>
<path class="ld" d="M552.4,579.8 L527.9,607.9"/>
<path class="ld" d="M491.7,541.7 L465.5,569.0"/>
<text class="lt" clip-path="url(#c1)" x="213.2" y="158.6" textLength="10.4" lengthAdjust="spacingAndGlyphs">1</text>
<text class="lt" x="275.2" y="145.6" textLength="10.4" lengthAdjust="spacingAndGlyphs">2</text>
<text class="lt" x="299.4" y="138.4" textLength="10.4" lengthAdjust="spacingAndGlyphs">3</text>
<text class="lt" x="322.6" y="100.8" textLength="10.4" lengthAdjust="spacingAndGlyphs">4</text>
<text class="lt" x="486.6" y="89.5" textLength="10.4" lengthAdjust="spacingAndGlyphs">5</text>
<text class="lt" x="530.7" y="111.2" textLength="10.4" lengthAdjust="spacingAndGlyphs">6</text>
<text class="lt" x="581.0" y="104.5" textLength="10.4" lengthAdjust="spacingAndGlyphs">7</text>
<text class="lt" x="628.3" y="97.9" textLength="10.4" lengthAdjust="spacingAndGlyphs">8</text>
<text class="lt" x="674.5" y="90.2" textLength="10.4" lengthAdjust="spacingAndGlyphs">9</text>
<text class="lt" clip-path="url(#c2)" x="776.4" y="78.9" textLength="20.8" lengthAdjust="spacingAndGlyphs">10</text>
<text class="lt" clip-path="url(#c3)" x="681.7" y="209.5" textLength="20.8" lengthAdjust="spacingAndGlyphs">11</text>
<text class="lt" clip-path="url(#c4)" x="728.3" y="239.4" textLength="20.8" lengthAdjust="spacingAndGlyphs">12</text>
<text class="lt" clip-path="url(#c5)" x="778.0" y="302.4" textLength="20.8" lengthAdjust="spacingAndGlyphs">13</text>
<text class="lt" clip-path="url(#c6)" x="622.6" y="371.1" textLength="20.8" lengthAdjust="spacingAndGlyphs">14</text>
<text class="lt" x="749.9" y="427.8" textLength="10.4" lengthAdjust="spacingAndGlyphs">4</text>
<text class="lt" clip-path="url(#c7)" x="556.0" y="574.1" textLength="20.8" lengthAdjust="spacingAndGlyphs">17</text>
<text class="lt" clip-path="url(#c8)" x="492.9" y="537.2" textLength="20.8" lengthAdjust="spacingAndGlyphs">18</text>
</g>
</svg>
</body></html>
